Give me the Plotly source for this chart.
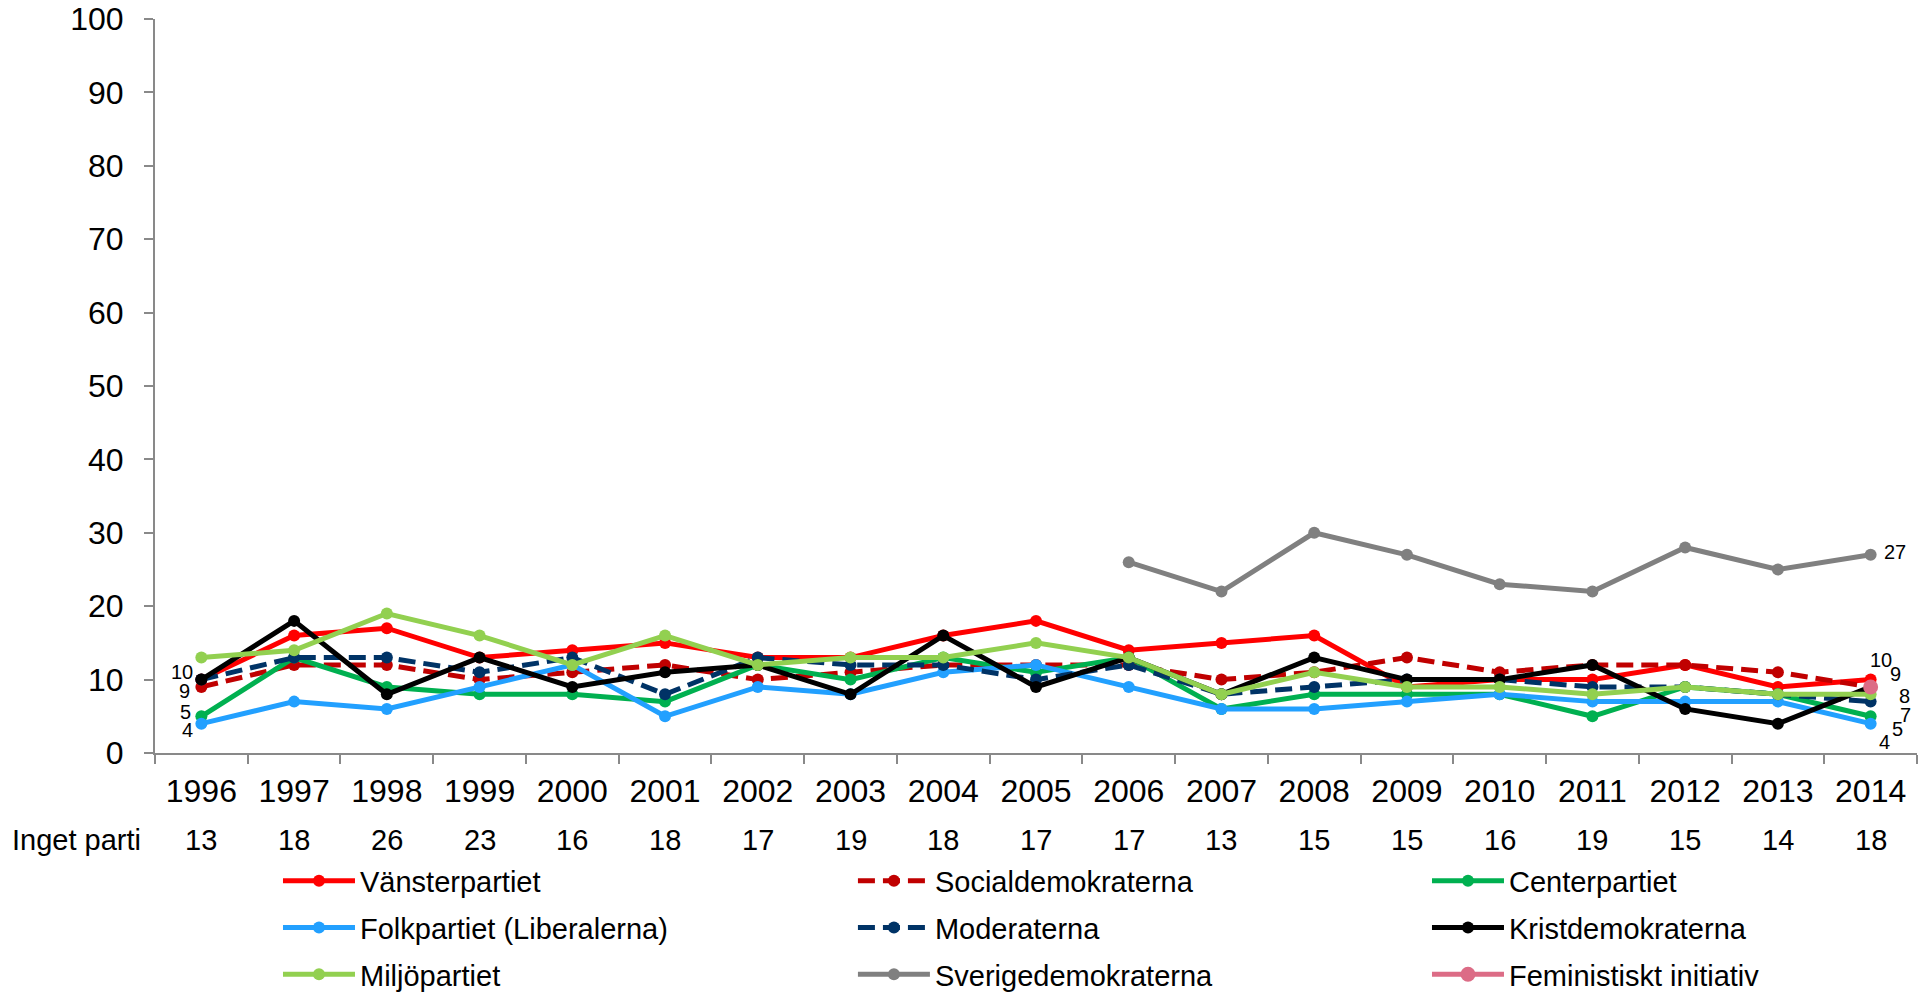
import plotly.graph_objects as go

years = [str(y) for y in range(1996, 2015)]
inget_parti = [13, 18, 26, 23, 16, 18, 17, 19, 18, 17, 17, 13, 15, 15, 16, 19, 15, 14, 18]

vansterpartiet = [10, 16, 17, 13, 14, 15, 13, 13, 16, 18, 14, 15, 16, 9, 10, 10, 12, 9, 10]
socialdemokraterna = [9, 12, 12, 10, 11, 12, 10, 11, 12, 12, 12, 10, 11, 13, 11, 12, 12, 11, 9]
centerpartiet = [5, 13, 9, 8, 8, 7, 12, 10, 13, 11, 13, 6, 8, 8, 8, 5, 9, 8, 5]
folkpartiet = [4, 7, 6, 9, 12, 5, 9, 8, 11, 12, 9, 6, 6, 7, 8, 7, 7, 7, 4]
moderaterna = [10, 13, 13, 11, 13, 8, 13, 12, 12, 10, 12, 8, 9, 10, 10, 9, 9, 8, 7]
kristdemokraterna = [10, 18, 8, 13, 9, 11, 12, 8, 16, 9, 13, 8, 13, 10, 10, 12, 6, 4, 9]
miljopartiet = [13, 14, 19, 16, 12, 16, 12, 13, 13, 15, 13, 8, 11, 9, 9, 8, 9, 8, 8]
sverigedemokraterna = [None] * 10 + [26, 22, 30, 27, 23, 22, 28, 25, 27]
feministiskt = [None] * 18 + [9]

y_ticks = list(range(0, 101, 10))

FONT = "Arial, Liberation Sans, sans-serif"

# name, values, colour, dash, marker size, legend column
series = [
    ("Vänsterpartiet", vansterpartiet, "#FF0000", "solid", 12, "legend"),
    ("Socialdemokraterna", socialdemokraterna, "#C00000", "17px,8px", 12, "legend2"),
    ("Centerpartiet", centerpartiet, "#00B050", "solid", 12, "legend3"),
    ("Folkpartiet (Liberalerna)", folkpartiet, "#22A0FF", "solid", 12, "legend"),
    ("Moderaterna", moderaterna, "#003366", "17px,8px", 12, "legend2"),
    ("Kristdemokraterna", kristdemokraterna, "#000000", "solid", 12, "legend3"),
    ("Miljöpartiet", miljopartiet, "#92D050", "solid", 12, "legend"),
    ("Sverigedemokraterna", sverigedemokraterna, "#808080", "solid", 12, "legend2"),
    ("Feministiskt initiativ", feministiskt, "#DC6C86", "solid", 15, "legend3"),
]

fig = go.Figure()
for name, vals, color, dash, msize, leg in series:
    fig.add_trace(go.Scatter(
        x=years, y=vals, name=name, mode="lines+markers",
        line=dict(color=color, width=5, dash=dash),
        marker=dict(color=color, size=msize),
        legend=leg, legendgroup=name, connectgaps=False,
    ))

annotations = []
# data labels: (values, index, xanchor, xshift, yshift)
labels = [
    (vansterpartiet, 0, "right", -6, 8),
    (socialdemokraterna, 0, "right", -9, -4),
    (centerpartiet, 0, "right", -8, 4),
    (folkpartiet, 0, "right", -6, -6),
    (sverigedemokraterna, 18, "left", 11, 3),
    (vansterpartiet, 18, "left", -3, 20),
    (socialdemokraterna, 18, "left", 17, 13),
    (miljopartiet, 18, "left", 26, -2),
    (moderaterna, 18, "left", 27, -13),
    (centerpartiet, 18, "left", 19, -13),
    (folkpartiet, 18, "left", 6, -18),
]
for vals, i, xa, xs, ys in labels:
    annotations.append(dict(
        x=i, y=vals[i], xref="x", yref="y", text=str(vals[i]),
        showarrow=False, xanchor=xa, yanchor="middle", xshift=xs, yshift=ys,
        font=dict(family=FONT, size=20, color="#000000"),
    ))

# "Inget parti" row
annotations.append(dict(
    x=0, y=-0.1185, xref="paper", yref="paper", text="Inget parti",
    showarrow=False, xanchor="right", yanchor="middle", xshift=-12,
    font=dict(family=FONT, size=29, color="#000000"),
))
for i, v in enumerate(inget_parti):
    annotations.append(dict(
        x=i, y=-0.1185, xref="x", yref="paper", text=str(v),
        showarrow=False, xanchor="center", yanchor="middle",
        font=dict(family=FONT, size=29, color="#000000"),
    ))

legend_common = dict(
    orientation="v", xanchor="left", yanchor="middle", y=-0.2384,
    font=dict(family=FONT, size=29, color="#000000"),
    itemwidth=72, traceorder="grouped", tracegroupgap=6,
    bgcolor="rgba(0,0,0,0)", borderwidth=0, itemclick=False,
)

# page body adds an 8px offset, so the figure is 8px smaller
fig.update_layout(
    width=1919, height=985,
    margin=dict(l=147, r=10, t=11, b=240, autoexpand=False),
    paper_bgcolor="white", plot_bgcolor="white",
    font=dict(family=FONT, size=29, color="#000000"),
    showlegend=True,
    legend=dict(legend_common, x=0.0698),
    legend2=dict(legend_common, x=0.3961),
    legend3=dict(legend_common, x=0.7219),
    annotations=annotations,
    xaxis=dict(
        type="category", categoryorder="array", categoryarray=years,
        range=[-0.5, 18.5], tickson="boundaries",
        showline=True, linecolor="#898989", linewidth=2,
        ticks="outside", ticklen=9, tickcolor="#898989", tickwidth=1.5,
        showgrid=False, zeroline=False, ticklabelstandoff=9,
        tickfont=dict(family=FONT, size=32, color="#000000"),
    ),
    yaxis=dict(
        range=[0, 100], tickvals=y_ticks,
        showline=True, linecolor="#898989", linewidth=2,
        ticks="outside", ticklen=9, tickcolor="#898989", tickwidth=1.5,
        showgrid=False, zeroline=False, ticklabelstandoff=14,
        ticklabeloverflow="allow",
        tickfont=dict(family=FONT, size=32, color="#000000"),
    ),
)

fig.write_html("out.html")
